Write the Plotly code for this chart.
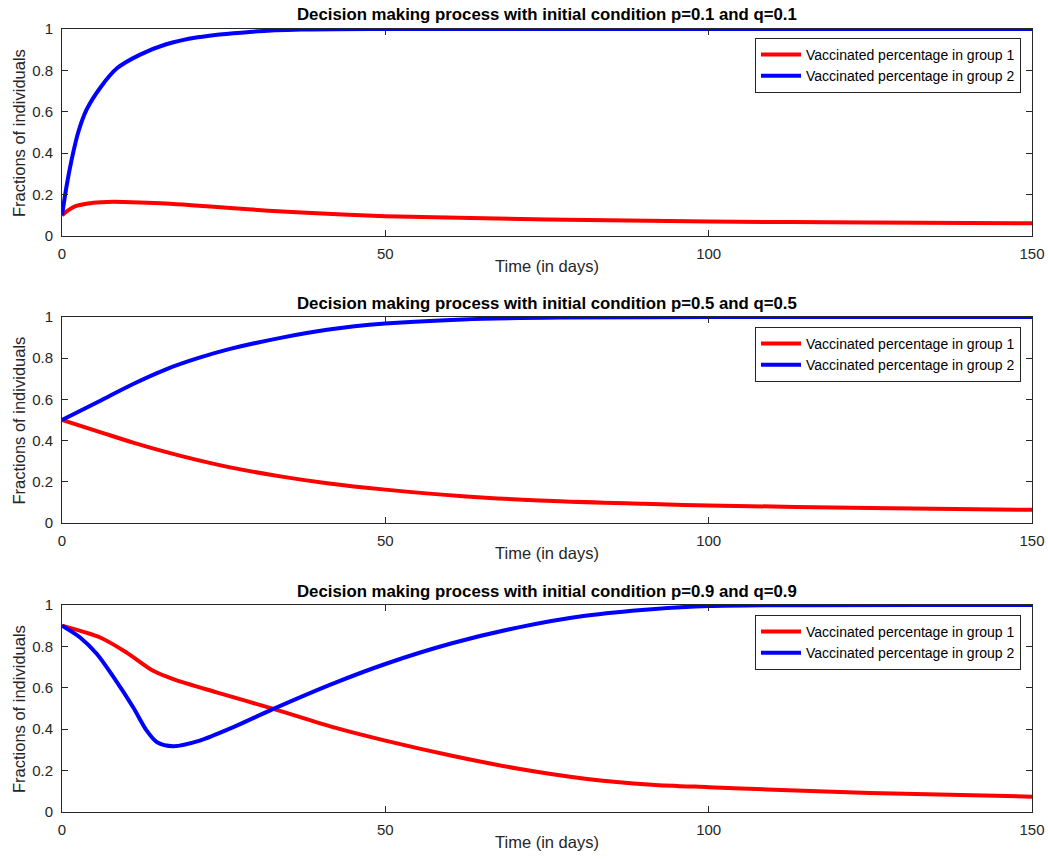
import plotly.graph_objects as go
from plotly.subplots import make_subplots

# Panel 1: p=0.1, q=0.1
t1_blue = [0, 0.7, 1.5, 2.5, 3.8, 6, 8.5, 12, 16, 21, 29, 37, 50, 75, 100, 150]
v1_blue = [0.1, 0.24, 0.37, 0.5, 0.61, 0.72, 0.81, 0.875, 0.925, 0.96, 0.986, 0.997, 1.0, 1.0, 1.0, 1.0]
t1_red = [0, 1, 2, 4, 6, 8, 12, 16, 20, 26, 37, 50, 75, 100, 125, 150]
v1_red = [0.1, 0.125, 0.143, 0.157, 0.163, 0.165, 0.162, 0.157, 0.149, 0.135, 0.113, 0.096, 0.08, 0.07, 0.065, 0.061]

# Panel 2: p=0.5, q=0.5
t2_blue = [0, 6, 11, 16, 21, 26, 34, 41, 50, 62, 77, 100, 150]
v2_blue = [0.5, 0.595, 0.675, 0.745, 0.8, 0.845, 0.9, 0.938, 0.968, 0.988, 0.997, 1.0, 1.0]
t2_red = [0, 6, 11, 16, 21, 26, 34, 41, 50, 62, 77, 90, 100, 125, 150]
v2_red = [0.5, 0.44, 0.39, 0.345, 0.305, 0.27, 0.225, 0.193, 0.162, 0.13, 0.105, 0.093, 0.085, 0.073, 0.064]

# Panel 3: p=0.9, q=0.9
t3_blue = [0, 2.8, 5.4, 8, 11, 13.1, 14.7, 17.2, 21.3, 26.5, 32.7, 41.9, 50, 60.3, 70.6, 80.9, 91.2, 100, 150]
v3_blue = [0.9, 0.843, 0.763, 0.65, 0.506, 0.393, 0.337, 0.318, 0.345, 0.41, 0.498, 0.62, 0.715, 0.815, 0.892, 0.948, 0.98, 0.995, 1.0]
t3_red = [0, 5.9, 10, 14.1, 17.2, 23.9, 32.7, 41.9, 50, 60.3, 70.6, 80.9, 91.2, 100, 109, 125, 150]
v3_red = [0.9, 0.843, 0.77, 0.682, 0.642, 0.578, 0.498, 0.41, 0.345, 0.272, 0.209, 0.161, 0.132, 0.12, 0.109, 0.092, 0.074]

titles = [
    "Decision making process with initial condition p=0.1 and q=0.1",
    "Decision making process with initial condition p=0.5 and q=0.5",
    "Decision making process with initial condition p=0.9 and q=0.9",
]
name_red = "Vaccinated percentage in group 1"
name_blue = "Vaccinated percentage in group 2"
x_title = "Time (in days)"
y_title = "Fractions of individuals"
x_ticks = [0, 50, 100, 150]
y_ticks = [0, 0.2, 0.4, 0.6, 0.8, 1]

panels = [
    (t1_red, v1_red, t1_blue, v1_blue),
    (t2_red, v2_red, t2_blue, v2_blue),
    (t3_red, v3_red, t3_blue, v3_blue),
]

fig = make_subplots(rows=3, cols=1)
legends = ["legend", "legend2", "legend3"]
for i, (tr, vr, tb, vb) in enumerate(panels):
    fig.add_trace(go.Scatter(x=tr, y=vr, mode="lines", name=name_red,
                             line=dict(color="#ff0000", width=4, shape="spline", smoothing=0.8),
                             legend=legends[i]), row=i + 1, col=1)
    fig.add_trace(go.Scatter(x=tb, y=vb, mode="lines", name=name_blue,
                             line=dict(color="#0000ff", width=4, shape="spline", smoothing=0.8),
                             legend=legends[i]), row=i + 1, col=1)

FW, FH = 1048, 859
# plot-area bounds in page pixels
L, R, T, B = 62, 1032, 29, 812
H = float(B - T)
W = float(R - L)
def py(pix):
    return (B - pix) / H
def px(pix):
    return (pix - L) / W

tops = [29, 317, 605]
bottoms = [236, 523, 812]
axis_common = dict(showline=True, linecolor="#262626", linewidth=1, mirror="allticks",
                   ticks="inside", ticklen=6, tickcolor="#262626", showgrid=False, zeroline=False,
                   automargin=False, tickfont=dict(size=15, color="#262626"))
for i in range(3):
    xa = "xaxis" if i == 0 else f"xaxis{i+1}"
    ya = "yaxis" if i == 0 else f"yaxis{i+1}"
    fig.layout[xa].update(range=[0, 150], tickvals=x_ticks, domain=[0, 1],
                          ticklabelstandoff=4, **axis_common)
    fig.layout[ya].update(range=[0, 1], tickvals=y_ticks, ticktext=[f"{v:g}" for v in y_ticks],
                          domain=[py(bottoms[i]), py(tops[i])], ticklabelstandoff=5, **axis_common)

annotations = []
for i, ttl in enumerate(titles):
    annotations.append(dict(text=f"<b>{ttl}</b>", x=0.5, xref="paper", y=py(tops[i] - 14), yref="paper",
                            showarrow=False, xanchor="center", yanchor="middle",
                            font=dict(size=16.8, color="black")))
    annotations.append(dict(text=x_title, x=0.5, xref="paper", y=py(bottoms[i] + 30), yref="paper",
                            showarrow=False, xanchor="center", yanchor="middle",
                            font=dict(size=16.5, color="#262626")))
    annotations.append(dict(text=y_title, x=px(18.5), xref="paper",
                            y=py((tops[i] + bottoms[i]) / 2 + 1), yref="paper", textangle=-90,
                            showarrow=False, xanchor="center", yanchor="middle",
                            font=dict(size=16.5, color="#262626")))
fig.update_layout(annotations=annotations)

leg_tops = [38, 327, 615]
for i, lg in enumerate(legends):
    fig.layout[lg] = dict(x=px(1021), xanchor="right", y=py(leg_tops[i]), yanchor="top",
                          bgcolor="white", bordercolor="#262626", borderwidth=1,
                          font=dict(size=14, color="black"), tracegroupgap=0, itemwidth=40)

fig.update_layout(width=FW, height=FH,
                  margin=dict(l=L, r=FW - R, t=T, b=FH - B, autoexpand=False),
                  plot_bgcolor="white", paper_bgcolor="white",
                  font=dict(family="Liberation Sans, Arial, sans-serif"),
                  showlegend=True)

fig.write_html("out.html", config={"displayModeBar": False},
               post_script="document.body.style.margin='0';document.body.style.overflow='hidden';")
